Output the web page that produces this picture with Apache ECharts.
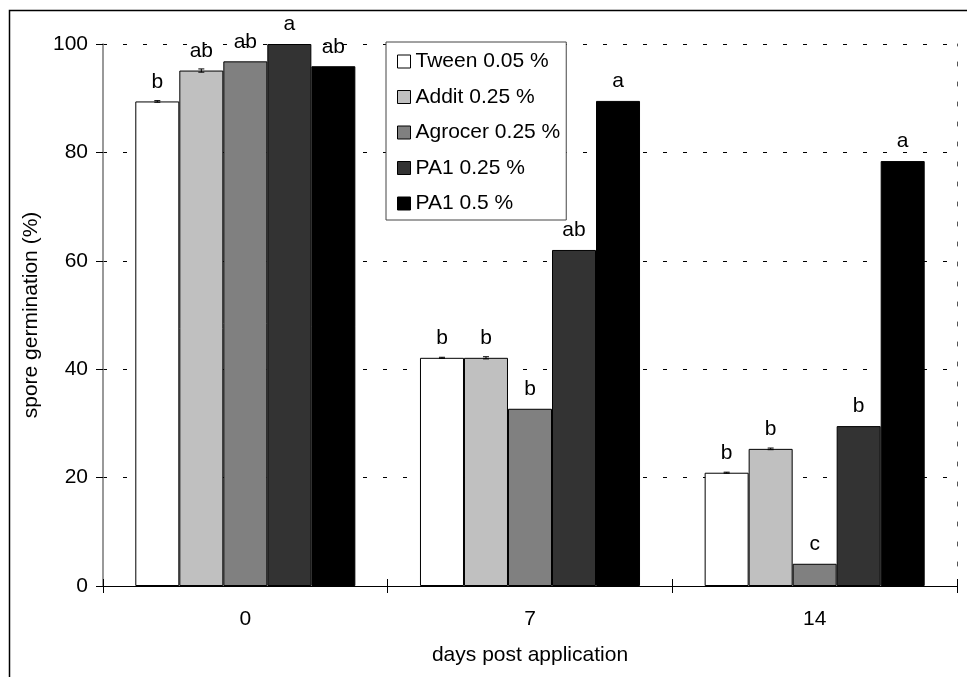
<!DOCTYPE html>
<html>
<head>
<meta charset="utf-8">
<script src="https://cdn.jsdelivr.net/npm/echarts@6/dist/echarts.min.js"></script>
<style>html,body{margin:0;padding:0;background:#fff;}#c{width:967px;height:677px;}</style>
</head>
<body>
<div id="c"></div>
<script>
const categories = ['0', '7', '14'];
const seriesNames = ['Tween 0.05 %', 'Addit 0.25 %', 'Agrocer 0.25 %', 'PA1 0.25 %', 'PA1 0.5 %'];
const tween = [89.4, 42.1, 20.9];
const addit = [95.1, 42.1, 25.3];
const agrocer = [96.8, 32.7, 4.1];
const pa1_025 = [100.0, 62.0, 29.5];
const pa1_05 = [95.9, 89.5, 78.4];
const tweenErr = [0.15, 0.1, 0.1];
const additErr = [0.3, 0.2, 0.15];
const agrocerErr = [0, 0, 0];
const pa1_025Err = [0, 0, 0];
const pa1_05Err = [0, 0, 0];
const tweenLetters = ['b', 'b', 'b'];
const additLetters = ['ab', 'b', 'b'];
const agrocerLetters = ['ab', 'b', 'c'];
const pa1_025Letters = ['a', 'ab', 'b'];
const pa1_05Letters = ['ab', 'a', 'a'];
const yTicks = [0, 20, 40, 60, 80, 100];

const values = [tween, addit, agrocer, pa1_025, pa1_05];
const errs = [tweenErr, additErr, agrocerErr, pa1_025Err, pa1_05Err];
const letters = [tweenLetters, additLetters, agrocerLetters, pa1_025Letters, pa1_05Letters];
const colors = ['#FFFFFF', '#C0C0C0', '#808080', '#333333', '#000000'];
const FONT = 'Liberation Sans, Arial, sans-serif';
const FS = 21;
const GAP = 0.227;

const series = [];
values.forEach((vals, k) => {
  series.push({
    name: seriesNames[k],
    type: 'bar',
    data: vals,
    barGap: '0%',
    barCategoryGap: (GAP * 100) + '%',
    itemStyle: { color: colors[k], borderColor: '#000', borderWidth: 1 },
    label: {
      show: true, position: 'top', distance: 9,
      fontFamily: FONT, fontSize: FS, color: '#000',
      formatter: p => letters[k][p.dataIndex]
    },
    z: 2
  });
});
values.forEach((vals, k) => {
  const d = vals.map((v, i) => [i, v, errs[k][i]]).filter(r => r[2] > 0);
  if (!d.length) return;
  series.push({
    type: 'custom',
    z: 5,
    silent: true,
    data: d,
    renderItem: (params, api) => {
      const cat = api.value(0), v = api.value(1), e = api.value(2);
      const band = api.size([1, 0])[0];
      const groupW = band * (1 - GAP);
      const barW = groupW / 5;
      const c = api.coord([cat, v]);
      const x = c[0] - groupW / 2 + barW * (k + 0.5);
      const yt = api.coord([cat, v + e])[1];
      const yb = api.coord([cat, v - e])[1];
      const st = { stroke: '#000', lineWidth: 1 };
      return {
        type: 'group',
        children: [
          { type: 'line', shape: { x1: x, y1: yt, x2: x, y2: yb }, style: st },
          { type: 'line', shape: { x1: x - 3, y1: yt, x2: x + 3, y2: yt }, style: st },
          { type: 'line', shape: { x1: x - 3, y1: yb, x2: x + 3, y2: yb }, style: st }
        ]
      };
    }
  });
});

const chart = echarts.init(document.getElementById('c'), null, { renderer: 'canvas' });
chart.setOption({
  animation: false,
  backgroundColor: '#fff',
  textStyle: { fontFamily: FONT },
  grid: { left: 103, right: 10, top: 44, bottom: 91, containLabel: false },
  legend: {
    data: seriesNames,
    orient: 'vertical',
    left: 386, top: 42,
    padding: [9, 6, 6, 11],
    itemGap: 14.5,
    itemWidth: 13, itemHeight: 13,
    icon: 'rect',
    backgroundColor: '#fff',
    borderColor: '#444', borderWidth: 1,
    textStyle: { fontFamily: FONT, fontSize: FS, color: '#000' },
    itemStyle: { borderColor: '#000', borderWidth: 1 }
  },
  xAxis: [{
    type: 'category',
    data: categories,
    axisLine: { show: true, lineStyle: { color: '#000', width: 1 } },
    axisTick: { show: true, length: 7, lineStyle: { color: '#000' } },
    axisLabel: { fontFamily: FONT, fontSize: FS, color: '#000', margin: 23 },
    name: 'days post application',
    nameLocation: 'middle',
    nameGap: 59,
    nameTextStyle: { fontFamily: FONT, fontSize: FS, color: '#000' }
  }, {
    type: 'category',
    data: categories,
    position: 'bottom',
    axisLine: { show: false },
    axisTick: { show: true, inside: true, length: 7, lineStyle: { color: '#000' } },
    axisLabel: { show: false }
  }],
  yAxis: [{
    type: 'value',
    min: 0, max: 100, interval: 20,
    axisLine: { show: true, lineStyle: { color: '#777', width: 1.5 } },
    axisTick: { show: true, length: 7, lineStyle: { color: '#000' } },
    axisLabel: { fontFamily: FONT, fontSize: FS, color: '#000', margin: 15,
      formatter: v => yTicks.indexOf(v) >= 0 ? String(v) : '' },
    splitLine: { show: true, lineStyle: { color: '#000', type: [4, 16], width: 1 } },
    name: 'spore germination (%)',
    nameLocation: 'middle',
    nameGap: 59,
    nameTextStyle: { fontFamily: FONT, fontSize: FS, color: '#000' }
  }, {
    type: 'value',
    position: 'right',
    min: 0, max: 100, interval: 20,
    axisLine: { show: true, lineStyle: { color: '#555', type: [4, 16], width: 1 } },
    axisTick: { show: false },
    axisLabel: { show: false },
    splitLine: { show: false }
  }],
  graphic: [{
    type: 'rect',
    shape: { x: 9.5, y: 10.5, width: 1000, height: 1000 },
    style: { fill: 'none', stroke: '#000', lineWidth: 1.5 },
    silent: true,
    z: 0
  }],
  series: series
});
</script>
</body>
</html>
